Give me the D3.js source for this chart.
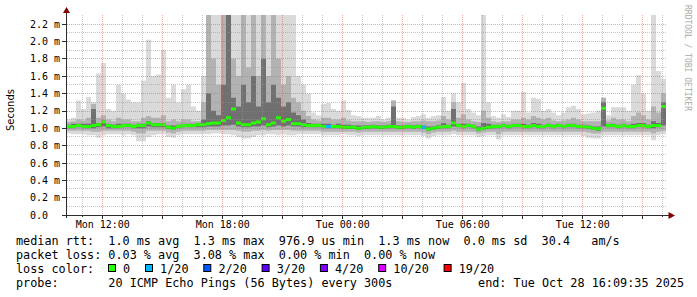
<!DOCTYPE html>
<html>
<head>
<meta charset="utf-8">
<script src="https://cdn.jsdelivr.net/npm/d3@7"></script>
<style>
  body { margin: 0; background: #fff; }
  text { font-family: "DejaVu Sans Mono", monospace; white-space: pre; }
</style>
</head>
<body>
<script>
// canvas
var w = 697, h = 297;

// time range (30 h, 15 min samples)
var t0 = new Date(2025, 9, 27, 10, 9, 35),
  t1 = new Date(2025, 9, 28, 16, 9, 35),
  stepMin = 15;

// median rtt, ms
var medianMs = [
  1.02,1.02,1.03,1.02,1.02,1.03,1.04,1.07,1.03,1.02,
  1.02,1.03,1.03,1.02,1.03,1.03,1.06,1.04,1.04,1.04,
  1.01,1.00,1.02,1.03,1.03,1.03,1.04,1.04,1.05,1.06,
  1.06,1.09,1.12,1.22,1.06,1.04,1.04,1.06,1.07,1.11,
  1.04,1.06,1.12,1.08,1.10,1.05,1.05,1.04,1.03,1.03,
  1.03,1.02,1.02,1.02,1.02,1.01,1.01,1.01,1.00,1.01,
  1.01,1.02,1.01,1.01,1.02,1.02,1.01,1.01,1.02,1.01,
  1.02,1.01,0.99,1.00,1.01,1.02,1.02,1.06,1.03,1.02,
  1.03,1.02,0.99,1.00,1.01,1.02,1.02,1.03,1.02,1.03,
  1.03,1.02,1.02,1.03,1.02,1.02,1.03,1.02,1.03,1.02,
  1.03,1.03,1.02,1.02,1.01,1.00,0.995,1.23,1.03,1.03,
  1.02,1.03,1.02,1.02,1.03,1.03,1.02,1.03,1.03,1.25
];

// smoke: slowest ping
var maxMs = [
  1.10,1.12,1.32,1.22,1.36,1.30,1.63,1.75,1.22,1.20,
  1.50,1.40,1.33,1.30,1.30,1.55,2.02,1.60,1.62,1.90,
  1.35,1.50,1.30,1.45,1.50,1.25,1.20,1.60,2.50,2.50,
  2.50,2.50,2.50,2.50,2.50,2.50,2.50,2.50,2.50,2.50,
  2.50,2.50,2.50,2.50,2.50,2.50,1.60,1.50,1.40,1.18,
  1.15,1.28,1.29,1.22,1.20,1.32,1.21,1.15,1.14,1.12,
  1.12,1.12,1.14,1.10,1.12,1.32,1.12,1.12,1.10,1.13,
  1.14,1.16,1.12,1.14,1.15,1.36,1.20,1.40,1.30,1.52,
  1.22,1.18,1.15,2.40,1.30,1.14,1.12,1.16,1.13,1.20,
  1.20,1.42,1.18,1.35,1.34,1.20,1.22,1.18,1.15,1.18,
  1.24,1.26,1.22,1.16,1.17,1.18,1.20,1.35,1.15,1.24,
  1.24,1.24,1.20,1.50,1.61,1.40,1.20,2.40,1.66,1.57
];

// smoke: upper middle band
var hi2Ms = [
  1.07,1.08,1.10,1.09,1.12,1.28,1.12,1.15,1.10,1.08,
  1.12,1.10,1.10,1.08,1.08,1.12,1.14,1.12,1.12,1.15,
  1.08,1.10,1.08,1.10,1.10,1.08,1.08,1.30,2.50,1.80,
  1.50,2.50,2.50,1.80,1.60,2.50,1.70,2.50,1.60,2.50,
  1.60,2.50,1.80,1.50,1.60,1.35,1.30,1.20,1.14,1.10,
  1.09,1.12,1.12,1.10,1.10,1.12,1.09,1.08,1.08,1.08,
  1.07,1.08,1.08,1.07,1.08,1.32,1.08,1.07,1.07,1.08,
  1.08,1.09,1.08,1.08,1.09,1.14,1.10,1.30,1.12,1.16,
  1.10,1.08,1.07,1.20,1.12,1.08,1.07,1.08,1.08,1.10,
  1.10,1.12,1.10,1.14,1.12,1.10,1.12,1.09,1.08,1.09,
  1.10,1.12,1.10,1.08,1.08,1.08,1.08,1.35,1.09,1.12,
  1.10,1.10,1.08,1.14,1.18,1.15,1.10,1.25,1.18,1.40
];

// smoke: upper inner band
var hi3Ms = [
  1.04,1.05,1.05,1.05,1.05,1.22,1.06,1.09,1.05,1.04,
  1.05,1.05,1.05,1.04,1.05,1.05,1.08,1.06,1.06,1.06,
  1.03,1.03,1.04,1.05,1.05,1.05,1.06,1.10,1.40,1.20,
  1.15,1.50,2.50,1.35,1.25,1.50,1.30,1.60,1.25,1.80,
  1.30,1.50,1.35,1.25,1.30,1.18,1.15,1.10,1.06,1.05,
  1.05,1.05,1.05,1.04,1.05,1.04,1.04,1.03,1.03,1.03,
  1.03,1.04,1.03,1.03,1.04,1.25,1.03,1.03,1.04,1.03,
  1.04,1.03,1.02,1.02,1.03,1.06,1.04,1.22,1.05,1.05,
  1.05,1.04,1.02,1.06,1.05,1.04,1.04,1.05,1.04,1.05,
  1.05,1.05,1.04,1.06,1.05,1.04,1.05,1.04,1.05,1.04,
  1.05,1.05,1.04,1.04,1.03,1.02,1.02,1.30,1.05,1.05,
  1.04,1.05,1.04,1.05,1.06,1.06,1.04,1.08,1.06,1.30
];

// smoke: lower inner band
var lo3Ms = [
  1.00,1.00,1.01,1.00,1.00,1.00,1.01,1.02,1.00,1.00,
  1.00,1.01,1.01,1.00,1.00,1.00,1.02,1.01,1.01,1.01,
  0.99,0.98,1.00,1.01,1.01,1.01,1.01,1.01,1.02,1.02,
  1.02,1.03,1.03,1.04,1.02,1.01,1.01,1.02,1.02,1.03,
  1.01,1.02,1.03,1.02,1.03,1.02,1.02,1.01,1.01,1.01,
  1.01,1.00,1.00,1.00,1.00,0.99,0.99,0.99,0.98,0.99,
  0.99,1.00,0.99,0.99,1.00,1.00,0.99,0.99,1.00,0.99,
  1.00,0.99,0.97,0.98,0.99,1.00,1.00,1.02,1.01,1.00,
  1.01,1.00,0.97,0.98,0.99,1.00,1.00,1.01,1.00,1.01,
  1.01,1.00,1.00,1.01,1.00,1.00,1.01,1.00,1.01,1.00,
  1.01,1.01,1.00,1.00,0.99,0.98,0.97,1.02,1.01,1.01,
  1.00,1.01,1.00,1.00,1.01,1.01,1.00,1.00,1.01,1.03
];

// smoke: lower middle band
var lo2Ms = [
  0.97,0.97,0.97,0.97,0.97,0.96,0.96,0.97,0.97,0.97,
  0.97,0.97,0.97,0.96,0.94,0.94,0.97,0.97,0.97,0.97,
  0.95,0.94,0.96,0.97,0.97,0.97,0.97,0.97,0.98,0.98,
  0.98,0.98,0.98,0.98,0.97,0.96,0.96,0.97,0.97,0.98,
  0.97,0.98,0.98,0.98,0.98,0.97,0.97,0.97,0.97,0.97,
  0.97,0.96,0.96,0.96,0.96,0.96,0.96,0.96,0.95,0.96,
  0.96,0.96,0.96,0.96,0.96,0.96,0.96,0.96,0.96,0.96,
  0.96,0.95,0.93,0.95,0.96,0.96,0.96,0.97,0.96,0.96,
  0.96,0.96,0.94,0.95,0.96,0.96,0.93,0.96,0.96,0.96,
  0.96,0.96,0.96,0.96,0.96,0.96,0.96,0.96,0.96,0.96,
  0.96,0.96,0.96,0.96,0.95,0.94,0.94,0.96,0.96,0.96,
  0.96,0.96,0.96,0.96,0.96,0.96,0.96,0.94,0.96,0.97
];

// smoke: fastest ping
var minMs = [
  0.94,0.93,0.93,0.93,0.92,0.92,0.89,0.92,0.93,0.93,
  0.93,0.92,0.93,0.92,0.85,0.85,0.90,0.92,0.93,0.93,
  0.90,0.89,0.92,0.93,0.93,0.93,0.93,0.93,0.93,0.94,
  0.94,0.93,0.93,0.92,0.90,0.88,0.88,0.90,0.92,0.92,
  0.93,0.93,0.92,0.93,0.92,0.92,0.93,0.93,0.93,0.93,
  0.93,0.92,0.92,0.92,0.92,0.93,0.92,0.92,0.91,0.92,
  0.92,0.92,0.92,0.92,0.92,0.92,0.92,0.92,0.92,0.92,
  0.92,0.91,0.88,0.91,0.92,0.92,0.92,0.93,0.92,0.92,
  0.92,0.92,0.90,0.91,0.92,0.92,0.87,0.92,0.92,0.92,
  0.92,0.92,0.92,0.92,0.92,0.92,0.92,0.92,0.92,0.92,
  0.92,0.92,0.92,0.91,0.89,0.88,0.88,0.92,0.92,0.92,
  0.92,0.92,0.92,0.92,0.92,0.92,0.92,0.86,0.92,0.93
];

// samples with lost pings: [sample index, lost of 20]
var lossAt = [[52, 1], [71, 1]];

// axis ticks
var yTicks = [0, 0.2, 0.4, 0.6, 0.8, 1.0, 1.2, 1.4, 1.6, 1.8, 2.0, 2.2];
var yTickLabels = ["0.0", "0.2 m", "0.4 m", "0.6 m", "0.8 m", "1.0 m", "1.2 m",
  "1.4 m", "1.6 m", "1.8 m", "2.0 m", "2.2 m"];

// legend
var lossLevels = ["0", "1/20", "2/20", "3/20", "4/20", "10/20", "19/20"];
var lossCounts = [0, 1, 2, 3, 4, 10, 19];
var lossColors = ["#26ff00", "#00b8ff", "#0059ff", "#5e00ff", "#7e00ff", "#dd00ff", "#ff0000"];
var legendLines = [
  "median rtt:  1.0 ms avg  1.3 ms max  976.9 us min  1.3 ms now  0.0 ms sd  30.4   am/s",
  "packet loss: 0.03 % avg  3.08 % max  0.00 % min  0.00 % now",
  "loss color:",
  "probe:       20 ICMP Echo Pings (56 Bytes) every 300s"
];
var endText = "end: Tue Oct 28 16:09:35 2025";

var svg = d3.select("body").append("svg")
  .attr("width", w)
  .attr("height", h);

// scales
var x = d3.scaleTime().domain([t0, t1]).range([66, 666]);
var y = d3.scaleLinear().domain([0, 2.304]).range([215, 15]);

// one row per sample, plus closing point for step curves
var rows = medianMs.map(function (m, i) {
  return {
    t: d3.timeMinute.offset(t0, i * stepMin),
    med: m, max: maxMs[i], hi2: hi2Ms[i], hi3: hi3Ms[i],
    lo3: lo3Ms[i], lo2: lo2Ms[i], min: minMs[i]
  };
});
rows.push(Object.assign({}, rows[rows.length - 1], { t: t1 }));

svg.append("clipPath").attr("id", "plot")
  .append("rect").attr("x", 66).attr("y", 15).attr("width", 600).attr("height", 200);

var g = svg.append("g").attr("clip-path", "url(#plot)");

// smoke bands, outermost first
var bands = [["min", "max", "#dadada"], ["lo2", "hi2", "#b2b2b2"], ["lo3", "hi3", "#707070"]];
bands.forEach(function (b) {
  var a = d3.area().curve(d3.curveStepAfter)
    .x(function (d) { return x(d.t); })
    .y0(function (d) { return y(d[b[0]]); })
    .y1(function (d) { return y(d[b[1]]); });
  g.append("path").attr("d", a(rows)).attr("fill", b[2]);
});

// median bar
var medArea = d3.area().curve(d3.curveStepAfter)
  .x(function (d) { return x(d.t); })
  .y0(function (d) { return y(d.med) + 1.5; })
  .y1(function (d) { return y(d.med) - 1.5; });
g.append("path").attr("d", medArea(rows)).attr("fill", lossColors[0]);

g.selectAll(".loss")
  .data(lossAt)
  .enter()
  .append("rect")
  .attr("class", "loss")
  .attr("x", function (d) { return x(rows[d[0]].t); })
  .attr("width", function (d) { return x(rows[d[0] + 1].t) - x(rows[d[0]].t); })
  .attr("y", function (d) { return y(rows[d[0]].med) - 1.5; })
  .attr("height", 3)
  .attr("fill", function (d) { return lossColors[lossCounts.indexOf(d[1])]; });

// grid (on top of the smoke, like rrdtool)
var grid = svg.append("g");
var minorY = d3.range(1, 23).map(function (k) { return k / 10; });
grid.selectAll(".hmin")
  .data(minorY.filter(function (v, i) { return i % 2 === 0; }))
  .enter().append("line")
  .attr("x1", 67).attr("x2", 667)
  .attr("y1", function (d) { return Math.floor(y(d)) + 0.5; })
  .attr("y2", function (d) { return Math.floor(y(d)) + 0.5; })
  .attr("stroke", "rgba(150,150,150,0.55)")
  .attr("stroke-dasharray", "1,1");

grid.selectAll(".hmaj")
  .data(yTicks.slice(1))
  .enter().append("line")
  .attr("x1", 67).attr("x2", 667)
  .attr("y1", function (d) { return Math.floor(y(d) + 0.2) + 0.5; })
  .attr("y2", function (d) { return Math.floor(y(d) + 0.2) + 0.5; })
  .attr("stroke", "rgba(230,90,90,0.55)")
  .attr("stroke-dasharray", "1,1");

var hours = x.ticks(d3.timeHour.every(1));
grid.selectAll(".v")
  .data(hours)
  .enter().append("line")
  .attr("x1", function (d) { return Math.floor(x(d)) + 0.5; })
  .attr("x2", function (d) { return Math.floor(x(d)) + 0.5; })
  .attr("y1", 15).attr("y2", 215)
  .attr("stroke", function (d) {
    return d.getHours() % 3 === 0 ? "rgba(230,90,90,0.55)" : "rgba(150,150,150,0.55)";
  })
  .attr("stroke-dasharray", "1,1");

// axes
var axisColor = "#2c2c2c";
svg.append("line").attr("x1", 66.5).attr("x2", 66.5).attr("y1", 11).attr("y2", 218)
  .attr("stroke", axisColor);
svg.append("line").attr("x1", 63).attr("x2", 670).attr("y1", 215.5).attr("y2", 215.5)
  .attr("stroke", axisColor);

// y ticks and labels
svg.selectAll(".yt")
  .data(yTicks)
  .enter().append("line")
  .attr("x1", 62).attr("x2", 66)
  .attr("y1", function (d) { return Math.floor(y(d) + 0.2) + 0.5; })
  .attr("y2", function (d) { return Math.floor(y(d) + 0.2) + 0.5; })
  .attr("stroke", axisColor);

svg.selectAll(".yl")
  .data(yTicks)
  .enter().append("text")
  .attr("x", 30)
  .attr("y", function (d) { return y(d) + 3.6; })
  .attr("font-size", "10px")
  .attr("fill", "#000")
  .text(function (d, i) { return yTickLabels[i]; });

// x ticks and labels
svg.selectAll(".xt")
  .data(hours)
  .enter().append("line")
  .attr("x1", function (d) { return Math.floor(x(d)) + 0.5; })
  .attr("x2", function (d) { return Math.floor(x(d)) + 0.5; })
  .attr("y1", 216)
  .attr("y2", function (d) { return d.getHours() % 3 === 0 ? 219 : 217; })
  .attr("stroke", axisColor);

var fmt = d3.timeFormat("%a %H:%M");
svg.selectAll(".xl")
  .data(hours.filter(function (d) { return d.getHours() % 6 === 0; }))
  .enter().append("text")
  .attr("x", function (d) { return x(d); })
  .attr("y", 228)
  .attr("text-anchor", "middle")
  .attr("font-size", "10px")
  .attr("fill", "#000")
  .text(function (d) { return fmt(d); });

// arrows
svg.append("path").attr("d", "M66.5,7 L63,13 L70,13 Z").attr("fill", "#7f0000");
svg.append("path").attr("d", "M675,215.5 L668.5,212 L668.5,219 Z").attr("fill", "#7f0000");

// y axis title
svg.append("text")
  .attr("transform", "translate(14,110) rotate(-90)")
  .attr("text-anchor", "middle")
  .style("font-family", "DejaVu Sans, sans-serif")
  .attr("font-size", "10px")
  .attr("fill", "#000")
  .text("Seconds");

// watermark
svg.append("text")
  .attr("transform", "translate(685,5) rotate(90)")
  .attr("font-size", "8px")
  .attr("fill", "#aaaaaa")
  .text("RRDTOOL / TOBI OETIKER");

// legend text
var legendBase = [245, 259, 273, 287];
svg.selectAll(".lg")
  .data(legendLines)
  .enter().append("text")
  .attr("x", 16)
  .attr("y", function (d, i) { return legendBase[i]; })
  .attr("font-size", "11.8px")
  .attr("fill", "#000")
  .text(function (d) { return d; });

svg.append("text")
  .attr("x", 684)
  .attr("y", legendBase[3])
  .attr("text-anchor", "end")
  .attr("font-size", "11.8px")
  .attr("fill", "#000")
  .text(endText);

// loss colour boxes
var bx = 108.5;
lossLevels.forEach(function (lbl, i) {
  svg.append("rect")
    .attr("x", bx).attr("y", 264.5)
    .attr("width", 7).attr("height", 7)
    .attr("fill", lossColors[i])
    .attr("stroke", "#000");
  svg.append("text")
    .attr("x", bx + 14.6)
    .attr("y", legendBase[2])
    .attr("font-size", "11.8px")
    .attr("fill", "#000")
    .text(lbl);
  bx = bx + 14.6 + lbl.length * 7.1 + 15.3;
});
</script>
</body>
</html>
